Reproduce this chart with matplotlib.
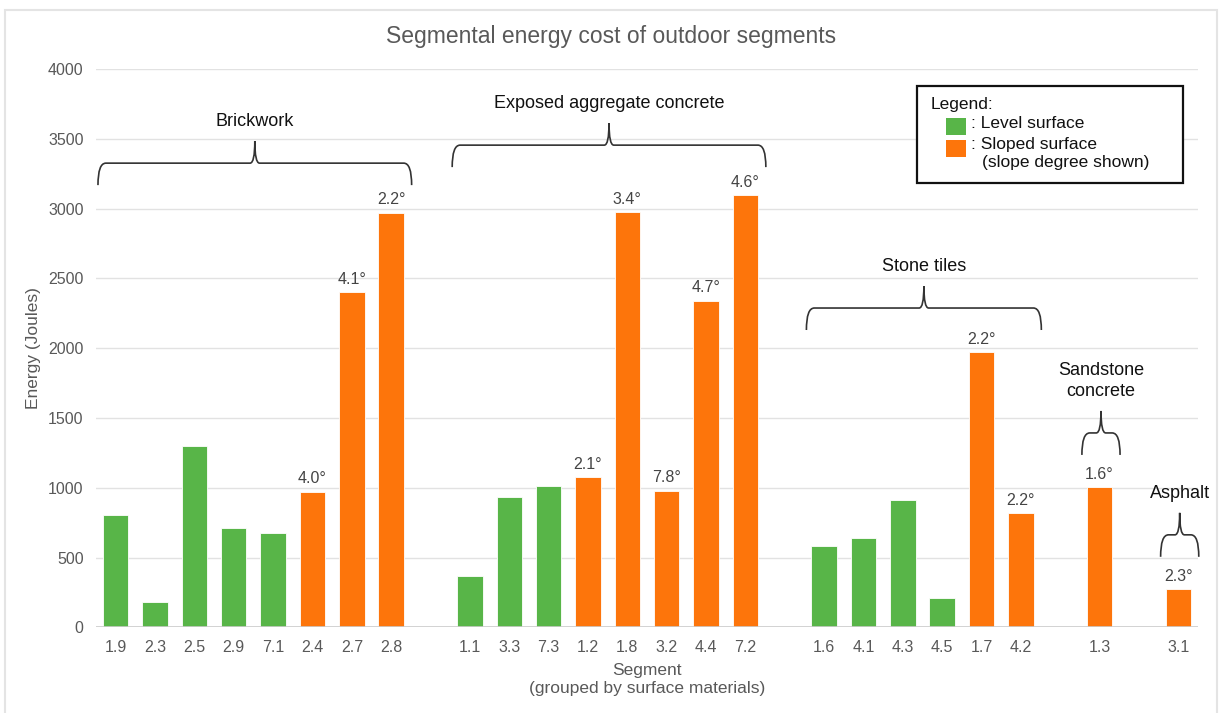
import numpy as np
import matplotlib.pyplot as plt
from matplotlib.path import Path
from matplotlib.patches import PathPatch, Rectangle

plt.rcParams['font.family'] = ['Liberation Sans', 'DejaVu Sans']

# segments, grouped by surface material
groups = ['Brickwork', 'Exposed aggregate concrete', 'Stone tiles',
          'Sandstone\nconcrete', 'Asphalt']
segments = ['1.9', '2.3', '2.5', '2.9', '7.1', '2.4', '2.7', '2.8',
            '1.1', '3.3', '7.3', '1.2', '1.8', '3.2', '4.4', '7.2',
            '1.6', '4.1', '4.3', '4.5', '1.7', '4.2',
            '1.3',
            '3.1']
group_idx = [0] * 8 + [1] * 8 + [2] * 6 + [3] + [4]
energy = [805, 180, 1300, 715, 678, 970, 2400, 2968,
          367, 930, 1010, 1075, 2975, 980, 2340, 3095,
          582, 640, 910, 208, 1972, 818,
          1003,
          272]
# slope in degrees, None = level surface
slope = [None, None, None, None, None, 4.0, 4.1, 2.2,
         None, None, None, 2.1, 3.4, 7.8, 4.7, 4.6,
         None, None, None, None, 2.2, 2.2,
         1.6,
         2.3]

GREEN = '#58b548'
ORANGE = '#fd750b'
TXT = '#595959'

W, H = 1219, 713
fig = plt.figure(figsize=(W / 100, H / 100), dpi=100)
ax = fig.add_axes([96 / W, 1 - 627.3 / H, (1198 - 96) / W, (627.3 - 69) / H])

def px(x, y):
    return x / W, 1 - y / H

# one empty slot between groups
x = np.arange(len(segments)) + np.array(group_idx)
colors = [GREEN if s is None else ORANGE for s in slope]
bars = ax.bar(x, energy, width=0.645, color=colors, edgecolor='#ffffff',
              linewidth=0.6, zorder=3)

for xi, e, s in zip(x, energy, slope):
    if s is not None:
        ax.annotate(f'{s:.1f}°', (xi, e), xytext=(0, 4), textcoords='offset points',
                    ha='center', va='bottom', fontsize=11.5, color='#444444')

ax.set_xlim(-0.5, x.max() + 0.5)
ax.set_ylim(0, 4000)
ax.set_yticks(np.arange(0, 4001, 500))
ax.set_xticks(x)
ax.set_xticklabels(segments)
ax.tick_params(axis='both', length=0, labelsize=11.5, labelcolor=TXT)
ax.tick_params(axis='x', pad=9)
ax.tick_params(axis='y', pad=9)
ax.grid(axis='y', color='#e2e2e2', linewidth=1, zorder=0)
for sp in ax.spines.values():
    sp.set_visible(False)
ax.axhline(0, color='#cccccc', linewidth=1.2, zorder=4)

ax.set_xlabel('Segment\n(grouped by surface materials)', fontsize=12.5, color=TXT,
              labelpad=6, linespacing=1.2)
ax.set_ylabel('Energy (Joules)', fontsize=12.5, color=TXT, labelpad=5)
fig.text(*px(611, 37), 'Segmental energy cost of outdoor segments', fontsize=16.5,
         color=TXT, ha='center', va='center')

# curly braces over each group
brace_base = [3168, 3297, 2130, 1235, 505]
brace_h = 315

def brace(x0, x1, yb, h, r=0.2):
    ym = yb + h / 2
    yt = yb + h
    xc = (x0 + x1) / 2
    verts = [(x0, yb), (x0, ym), (x0 + r, ym),
             (xc - r * 0.6, ym), (xc, ym), (xc, yt),
             (xc, ym), (xc + r * 0.6, ym),
             (x1 - r, ym), (x1, ym), (x1, yb)]
    codes = [Path.MOVETO, Path.CURVE3, Path.CURVE3,
             Path.LINETO, Path.CURVE3, Path.CURVE3,
             Path.CURVE3, Path.CURVE3,
             Path.LINETO, Path.CURVE3, Path.CURVE3]
    ax.add_patch(PathPatch(Path(verts, codes), fc='none', ec='#333333',
                           lw=1.2, clip_on=False, zorder=5))
    return xc, yt

gi = np.array(group_idx)
for g, name in enumerate(groups):
    gx = x[gi == g]
    xc, yt = brace(gx.min() - 0.45, gx.max() + 0.52, brace_base[g], brace_h)
    ax.annotate(name, (xc, yt), xytext=(0, 8), textcoords='offset points',
                ha='center', va='bottom', fontsize=13, color='#111111',
                linespacing=1.3)

# legend box
fig.patches.append(Rectangle(px(917, 183), (1183 - 917) / W, (183 - 86) / H,
                             transform=fig.transFigure, fc='white', ec='#111111',
                             lw=1.6, zorder=10))
fig.patches.append(Rectangle(px(946, 135), 20 / W, 17 / H, transform=fig.transFigure,
                             fc=GREEN, ec='none', zorder=11))
fig.patches.append(Rectangle(px(946, 157), 20 / W, 17 / H, transform=fig.transFigure,
                             fc=ORANGE, ec='none', zorder=11))
lg = dict(fontsize=12.5, color='#111111', va='center', ha='left', zorder=12)
fig.text(*px(931, 104), 'Legend:', **lg)
fig.text(*px(971, 124), ': Level surface', **lg)
fig.text(*px(971, 144), ': Sloped surface', **lg)
fig.text(*px(982, 163), '(slope degree shown)', **lg)

# chart border
fig.patches.append(Rectangle(px(5, 720), (1217 - 5) / W, (720 - 10) / H,
                             transform=fig.transFigure, fc='none', ec='#e4e4e4',
                             lw=1.5, zorder=0))

fig.savefig('out.png', dpi=100)
